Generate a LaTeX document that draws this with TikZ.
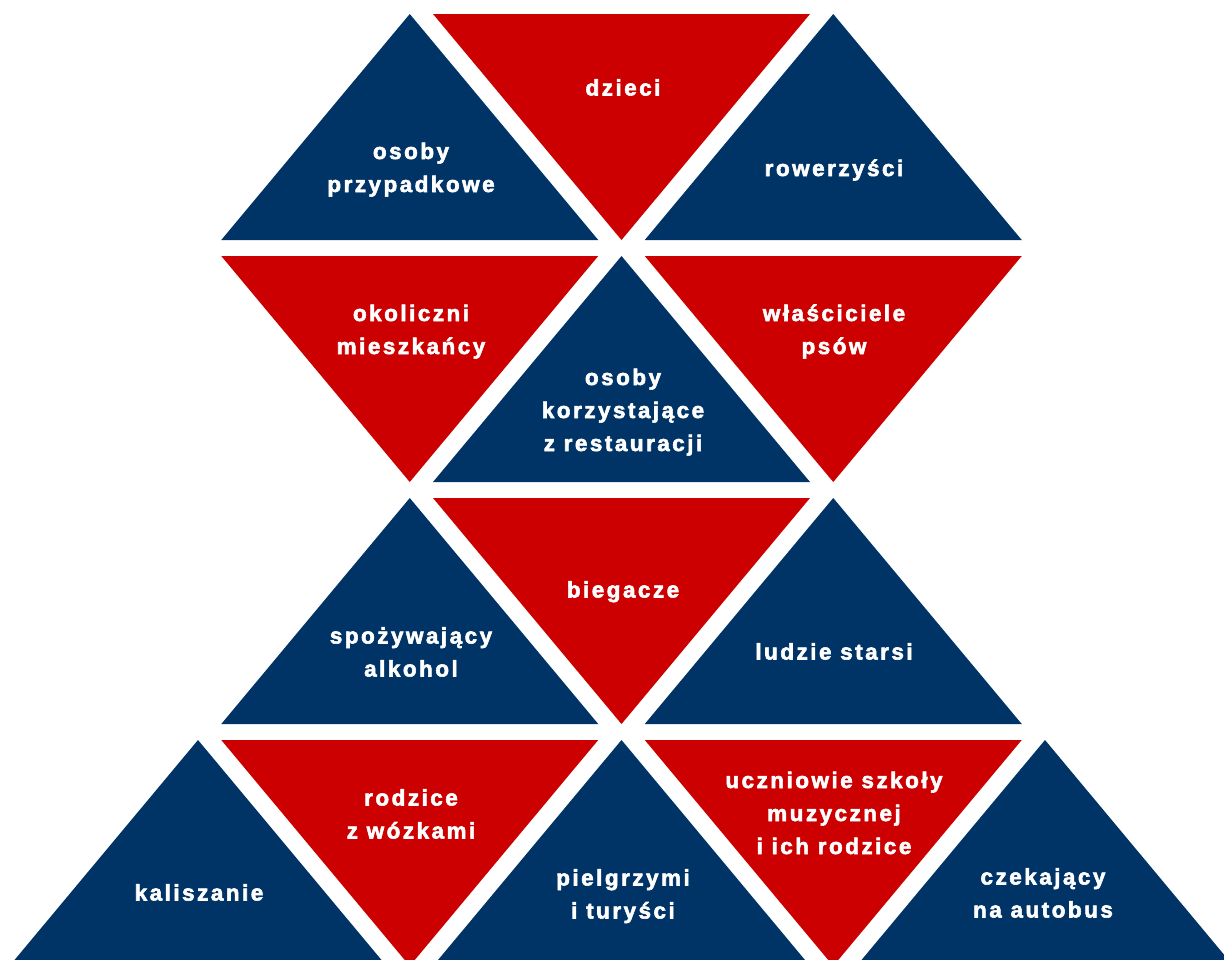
\documentclass[tikz,border=0pt]{standalone}
\usepackage{fontspec}
\newfontfamily\lblfam{Liberation Sans Bold}[LetterSpace=11,FakeBold=2.5]
\usepackage{xcolor}
\definecolor{tblue}{RGB}{0,51,102}
\definecolor{tred}{RGB}{204,0,0}
\newcommand\lblfont{\fontsize{22.5}{33}\selectfont\lblfam}
\newcommand\up[3]{\fill[upT] (#1,#2) -- ++(188.5,226) -- ++(-377,0) -- cycle;}
\newcommand\dn[3]{\fill[dnT] (#1-188.5,#2) -- ++(377,0) -- ++(-188.5,226) -- cycle;}
\newcommand\ml[1]{\begin{tabular}[t]{@{}c@{}}#1\end{tabular}}
\tikzset{
  upT/.style={fill=tblue},
  dnT/.style={fill=tred},
  lbl/.style={text=white, font=\lblfont, inner sep=0pt, anchor=base}
}
\begin{document}
\begin{tikzpicture}[x=1pt,y=-1pt]
\useasboundingbox (0,0) rectangle (1224,959);
\begin{scope}
\clip (0,0) rectangle (1224,959);
% row 1
\up{409.75}{14}{}
\dn{621.5}{14}{}
\up{833.25}{14}{}
% row 2
\dn{409.75}{256}{}
\up{621.5}{256}{}
\dn{833.25}{256}{}
% row 3
\up{409.75}{498}{}
\dn{621.5}{498}{}
\up{833.25}{498}{}
% row 4
\up{198}{740}{}
\dn{409.75}{740}{}
\up{621.5}{740}{}
\dn{833.25}{740}{}
\up{1045}{740}{}
\end{scope}
% labels
\node[lbl] (l1) at (411,159) {\ml{osoby\\przypadkowe}};
\node[lbl] (l2) at (623,95.5) {\ml{dzieci}};
\node[lbl] (l3) at (834,176) {\ml{rowerzyści}};
\node[lbl] (l4) at (411,321) {\ml{okoliczni\\mieszkańcy}};
\node[lbl] (l5) at (623,385) {\ml{osoby\\korzystające\\z restauracji}};
\node[lbl] (l6) at (834,321) {\ml{właściciele\\psów}};
\node[lbl] (l7) at (411,643.5) {\ml{spożywający\\alkohol}};
\node[lbl] (l8) at (623,597.5) {\ml{biegacze}};
\node[lbl] (l9) at (834,659.5) {\ml{ludzie starsi}};
\node[lbl] (l10) at (199,900.5) {\ml{kaliszanie}};
\node[lbl] (l11) at (411,805.5) {\ml{rodzice\\z wózkami}};
\node[lbl] (l12) at (623,885.5) {\ml{pielgrzymi\\i turyści}};
\node[lbl] (l13) at (834,788) {\ml{uczniowie szkoły\\muzycznej\\i ich rodzice}};
\node[lbl] (l14) at (1043,884.5) {\ml{czekający\\na autobus}};
\end{tikzpicture}
\end{document}
